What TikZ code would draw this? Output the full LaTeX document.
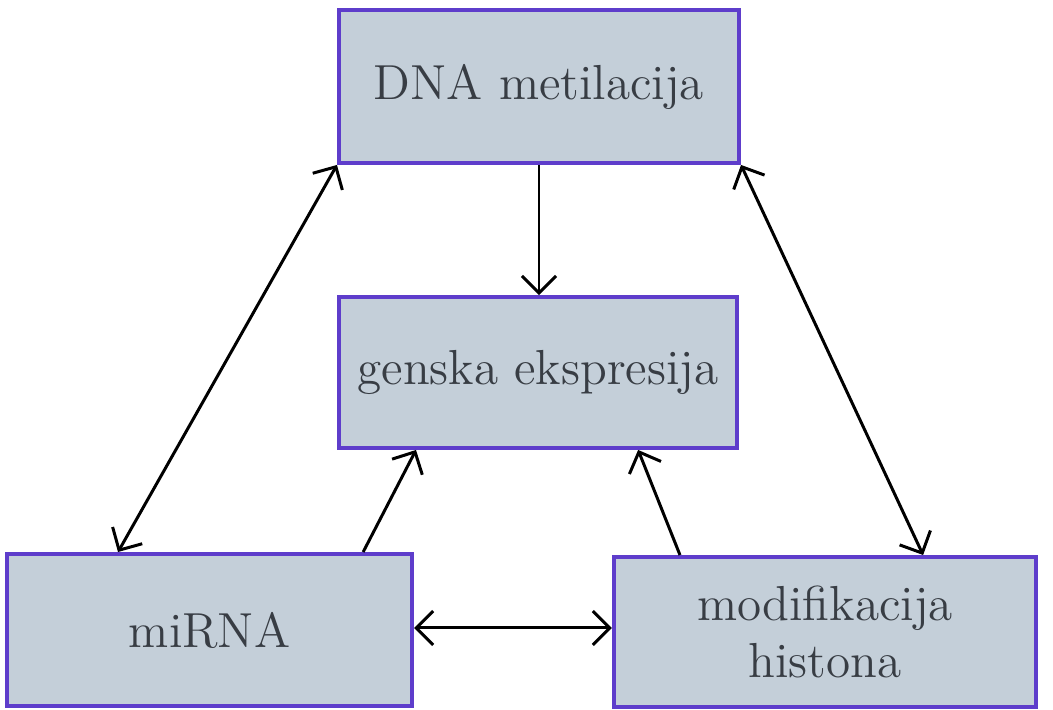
\documentclass[tikz,border=0pt]{standalone}
\usepackage{tikz}
\usetikzlibrary{positioning, arrows.meta, calc}

\definecolor{boxfill}{HTML}{C4CFD9}
\definecolor{boxline}{HTML}{5E3DCB}
\definecolor{boxtext}{HTML}{383D44}

\begin{document}
\begin{tikzpicture}[x=0.01cm, y=-0.01cm, >={Straight Barb[length=1.7mm, width=3.4mm]},
     line width=0.85pt,
     box/.style={draw=boxline, fill=boxfill, line width=1.1pt, shape=rectangle,
       text=boxtext, align=center, inner sep=0pt,
       font=\fontsize{14}{16}\selectfont}]

  \useasboundingbox (0,0) rectangle (1053,710);

  % boxes
  \node[box, minimum width=4cm, minimum height=1.53cm] (dna) at (539,86.5) {DNA metilacija};
  \node[box, minimum width=3.98cm, minimum height=1.51cm] (gen) at (538,372.5) {genska ekspresija};
  \node[box, minimum width=4.05cm, minimum height=1.52cm] (mirna) at (209.5,630) {miRNA};
  \node[box, minimum width=4.22cm, minimum height=1.5cm] (mod) at (825,632)
     {\fontsize{14}{24}\selectfont modifikacija\\histona};

  % connectors
  \draw[->] (dna.south) -- (dna.south |- gen.north);
  \draw[<->] (dna.south west) -- ([xshift=1.13cm]mirna.north west);
  \draw[<->] (dna.south east) -- ([xshift=3.11cm]mod.north west);
  \draw[->] ([xshift=3.58cm]mirna.north west) -- ([xshift=0.79cm]gen.south west);
  \draw[->] ([xshift=0.68cm]mod.north west) -- ([xshift=3.01cm]gen.south west);
  \draw[<->] ([yshift=0.02cm]mirna.east) -- ([yshift=0.02cm]mirna.east -| mod.west);
\end{tikzpicture}
\end{document}
